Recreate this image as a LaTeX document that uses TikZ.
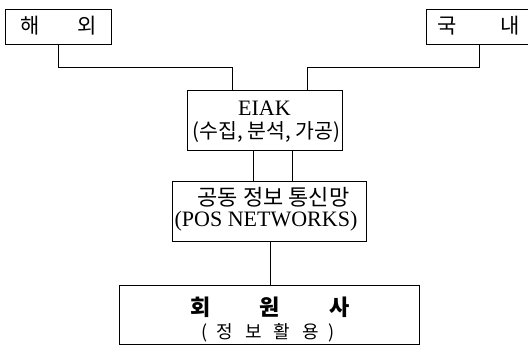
\documentclass[tikz,border=0pt]{standalone}
\usepackage{fontspec}
\setmainfont{Liberation Serif}
\newfontfamily\kr{Noto Sans CJK KR}
\usetikzlibrary{calc}
\tikzset{
  box/.style={draw, line width=0.9pt, inner sep=0pt, rectangle},
  conn/.style={line width=0.9pt},
  txt/.style={inner sep=0pt, anchor=center},
}
\begin{document}
\begin{tikzpicture}[x=1pt,y=-1pt]
\useasboundingbox (0,0) rectangle (528,345);
\begin{scope}
\clip (0,0) rectangle (528,345);
% boxes
\node[box, minimum width=106pt, minimum height=35pt] (hae) at (58,26.5) {};
\node[box, minimum width=106pt, minimum height=35pt] (kuk) at (479,26.5) {};
\node[box, minimum width=155pt, minimum height=60pt] (eiak) at (264.5,120) {};
\node[box, minimum width=194pt, minimum height=60pt] (gong) at (269,211) {};
\node[box, minimum width=300pt, minimum height=59pt] (hoe) at (269,314.5) {};
% texts
\node[txt] (thae) at (58.5,26) {\kr\fontsize{21}{21}\selectfont 해\hspace{38pt}외};
\node[txt] (tkuk) at (478.5,26) {\kr\fontsize{21}{21}\selectfont 국\hspace{44pt}내};
\node[txt] (teiak1) at (264.5,108) {\fontsize{22}{22}\selectfont EIAK};
\node[txt] (teiak2) at (266.5,132) {\kr\fontsize{20.5}{20.5}\selectfont (수집, 분석, 가공)};
\node[txt] (tgong1) at (273.5,197) {\kr\fontsize{22}{22}\selectfont 공동 정보 통신망};
\node[txt] (tgong2) at (266,221) {\fontsize{22}{22}\selectfont (POS NETWORKS)};
\node[txt] (thoe1) at (270,307) {\kr\bfseries\fontsize{22}{22}\selectfont 회\hspace{49pt}원\hspace{49pt}사};
\node[txt] (thoe2) at (268,333) {\kr\fontsize{18}{18}\selectfont (\hspace{9pt}정\hspace{12pt}보\hspace{12pt}활\hspace{12pt}용\hspace{9pt})};
% connectors
\coordinate (j1) at (232,67);
\coordinate (j2) at (307,67);
\draw[conn] (hae.south) |- (j1) -- (j1 |- eiak.north);
\draw[conn] (kuk.south) |- (j2) -- (j2 |- eiak.north);
\draw[conn] ([xshift=-11.5pt]eiak.south) -- ([xshift=-11.5pt]eiak.south |- gong.north);
\draw[conn] ([xshift=27.5pt]eiak.south) -- ([xshift=27.5pt]eiak.south |- gong.north);
\draw[conn] ([xshift=1pt]gong.south) -- ([xshift=1pt]gong.south |- hoe.north);
\end{scope}
\end{tikzpicture}
\end{document}
